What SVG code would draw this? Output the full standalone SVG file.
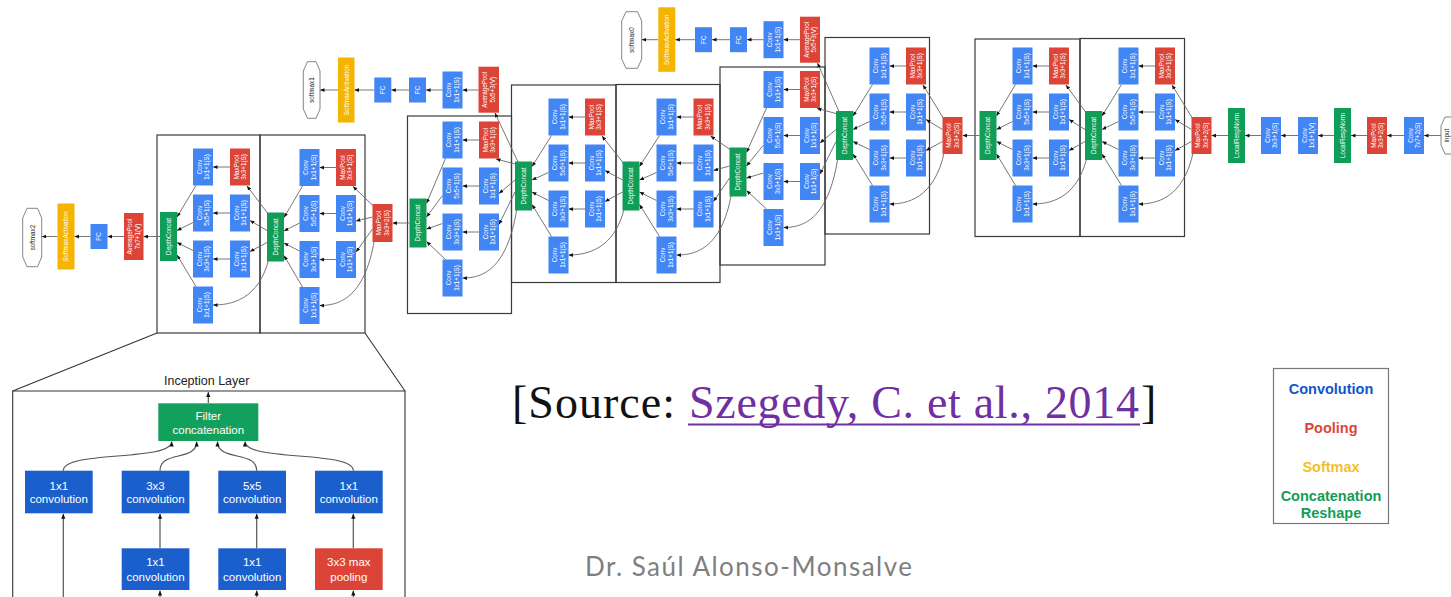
<svg xmlns="http://www.w3.org/2000/svg" width="1451" height="597" viewBox="0 0 1451 597">
<defs>
<style>
.b{fill:#4285f4}.r{fill:#db4437}.g{fill:#0f9d58}.y{fill:#f4b400}
.ib{fill:#1a5fcc}.ir{fill:#dc4437}.ig{fill:#12a05c}
.t{font-family:"Liberation Sans",Arial,sans-serif;font-size:6.3px;fill:#fff;text-anchor:middle}
.d{font-family:"Liberation Sans",Arial,sans-serif;font-size:6.3px;fill:#222;text-anchor:middle}
.hx{fill:#fff;stroke:#666;stroke-width:0.8}
.box{fill:none;stroke:#3a3a3a;stroke-width:1.2}
#links path{fill:none;stroke:#666;stroke-width:0.9;marker-end:url(#ah)}
#inset-links path{fill:none;stroke:#555;stroke-width:1.2;marker-end:url(#ah2)}
.it{font-family:"Liberation Sans",Arial,sans-serif;font-size:11.5px;fill:#fff;text-anchor:middle}
.lg{font-family:"Liberation Sans",Arial,sans-serif;font-size:14.5px;font-weight:bold;text-anchor:middle}
</style>
<marker id="ah" viewBox="0 0 6 6" refX="6" refY="3" markerWidth="4.5" markerHeight="4.5" markerUnits="userSpaceOnUse" orient="auto"><path d="M0,0.5L6,3L0,5.5z" fill="#111"/></marker>
<marker id="ah2" viewBox="0 0 6 6" refX="6" refY="3" markerWidth="5" markerHeight="5" markerUnits="userSpaceOnUse" orient="auto"><path d="M0,0.5L6,3L0,5.5z" fill="#111"/></marker>
</defs>
<rect width="1451" height="597" fill="#fff"/>

<!-- inception module frames -->
<g id="frames">
<rect class="box" x="157" y="135" width="103" height="198"/>
<rect class="box" x="260" y="135" width="105" height="198"/>
<rect class="box" x="407.5" y="116" width="104" height="197.5"/>
<rect class="box" x="511.5" y="85" width="104.5" height="197.5"/>
<rect class="box" x="616" y="84.5" width="104" height="198"/>
<rect class="box" x="720" y="67" width="105" height="198"/>
<rect class="box" x="825" y="37.5" width="104.5" height="196.5"/>
<rect class="box" x="975" y="39" width="105" height="197.5"/>
<rect class="box" x="1080" y="38.5" width="104.5" height="198"/>
</g>

<!-- connectors -->
<g id="links">
<!-- module A -->
<path d="M269,215L247,186"/><path d="M267,230.5L250,220.5"/><path d="M267,242.5L250,251.5"/><path d="M269,258C259,300.5 230,305 213,305"/>
<path d="M230,167H213"/><path d="M230,213H213"/><path d="M230,259H213"/>
<path d="M196,185.5L177,217"/><path d="M193,222.5L177,230.5"/><path d="M193,250.5L177,242.5"/><path d="M196,286.5L177,255"/>
<!-- module B -->
<path d="M374.5,207L353,186.5"/><path d="M372.5,217L356,221"/><path d="M372.5,229L356,252"/><path d="M374.5,239C364.5,301 336,305.5 319.5,305.5"/>
<path d="M336,167.5H319.5"/><path d="M336,213.5H319.5"/><path d="M336,259.5H319.5"/>
<path d="M302.5,186L284,217.5"/><path d="M299.5,223L284,231"/><path d="M299.5,251L284,243"/><path d="M302.5,287L284,255.5"/>
<!-- module C -->
<path d="M517,164.5L496,159"/><path d="M515,180L499,193.5"/><path d="M515,192L499,224.5"/><path d="M517,207.5C507,273.5 479,278 462.5,278"/>
<path d="M479,140H462.5"/><path d="M479,186H462.5"/><path d="M479,232H462.5"/>
<path d="M445.5,158.5L426.5,203.5"/><path d="M442.5,195.5L426.5,217"/><path d="M442.5,223.5L426.5,229"/><path d="M445.5,259.5L426.5,241.5"/>
<!-- module D -->
<path d="M624.5,164.5L602,136"/><path d="M622.5,180L605,170.5"/><path d="M622.5,192L605,201.5"/><path d="M624.5,207.5C614.5,250.5 585,255 568.5,255"/>
<path d="M585,117H568.5"/><path d="M585,163H568.5"/><path d="M585,209H568.5"/>
<path d="M551.5,135.5L532,166.5"/><path d="M548.5,172.5L532,180"/><path d="M548.5,200.5L532,192"/><path d="M551.5,236.5L532,204.5"/>
<!-- module E -->
<path d="M731.5,150.5L710.5,136"/><path d="M729.5,166L713.5,170.5"/><path d="M729.5,178L713.5,201.5"/><path d="M731.5,193.5C721.5,250.5 693.5,255 676.5,255"/>
<path d="M693.5,117H676.5"/><path d="M693.5,163H676.5"/><path d="M693.5,209H676.5"/>
<path d="M659.5,135.5L639.5,166.5"/><path d="M656.5,172.5L639.5,180"/><path d="M656.5,200.5L639.5,192"/><path d="M659.5,236.5L639.5,204.5"/>
<!-- module F -->
<path d="M838,114L817,108.5"/><path d="M836,129.5L820,143"/><path d="M836,141.5L820,174"/><path d="M838,157C828,223 800,227.5 783.5,227.5"/>
<path d="M800,89.5H783.5"/><path d="M800,135.5H783.5"/><path d="M800,181.5H783.5"/>
<path d="M766.5,108L746.5,152.5"/><path d="M763.5,145L746.5,166"/><path d="M763.5,173L746.5,178"/><path d="M766.5,209L746.5,190.5"/>
<!-- module G -->
<path d="M944.5,120L923,85"/><path d="M942.5,129.5L926,119.5"/><path d="M942.5,141.5L926,150.5"/><path d="M944.5,151C934.5,199.5 906,204 889.5,204"/>
<path d="M906,66H889.5"/><path d="M906,112H889.5"/><path d="M906,158H889.5"/>
<path d="M872.5,84.5L853,116"/><path d="M869.5,121.5L853,129.5"/><path d="M869.5,149.5L853,141.5"/><path d="M872.5,185.5L853,154"/>
<!-- module H -->
<path d="M1087,114L1066,85"/><path d="M1085,129.5L1069,119.5"/><path d="M1085,141.5L1069,150.5"/><path d="M1087,157C1077,199.5 1049,204 1032.5,204"/>
<path d="M1049,66H1032.5"/><path d="M1049,112H1032.5"/><path d="M1049,158H1032.5"/>
<path d="M1015.5,84.5L996.5,116"/><path d="M1012.5,121.5L996.5,129.5"/><path d="M1012.5,149.5L996.5,141.5"/><path d="M1015.5,185.5L996.5,154"/>
<!-- module I -->
<path d="M1193.5,120L1172,85"/><path d="M1191.5,129.5L1175,119.5"/><path d="M1191.5,141.5L1175,150.5"/><path d="M1193.5,151C1183.5,199.5 1155,204 1138.5,204"/>
<path d="M1155,66H1138.5"/><path d="M1155,112H1138.5"/><path d="M1155,158H1138.5"/>
<path d="M1121.5,84.5L1102,116"/><path d="M1118.5,121.5L1102,129.5"/><path d="M1118.5,149.5L1102,141.5"/><path d="M1121.5,185.5L1102,154"/>
<!-- stem and reductions -->
<path d="M409.5,223H392.5"/><path d="M979.5,135.5H962.5"/><path d="M1228,135.5H1211.5"/>
<path d="M1261,135.5H1245"/><path d="M1298,135.5H1281"/><path d="M1334,135.5H1318"/>
<path d="M1367,135.5H1351"/><path d="M1404,135.5H1387"/><path d="M1441,135.5H1424"/>
<!-- head softmax2 -->
<path d="M160,236.5H143.5"/><path d="M124,236.5H107.5"/><path d="M90.5,236.5H74.5"/><path d="M57.5,236.5H41.7"/>
<!-- head softmax1 -->
<path d="M518,162L495,113"/>
<path d="M478.5,90H462.5"/><path d="M442.5,90H426"/><path d="M409,90H391.3"/><path d="M374.3,90H354.5"/><path d="M338,90H320"/>
<!-- head softmax0 -->
<path d="M839,111.5L817.5,63"/>
<path d="M800,39.7H783.5"/><path d="M763.5,39.7H747"/><path d="M730,39.7H712"/><path d="M695,39.7H675.3"/><path d="M658.3,39.7H641.7"/>
</g>

<!-- module A nodes -->
<g id="a-concat"><rect class="g" x="160" y="212" width="17" height="49"/><text class="t" transform="translate(168.5 236.5) rotate(-90)" y="2.3">DepthConcat</text></g>
<g id="a-c1r1"><rect class="b" x="193" y="148.5" width="20" height="37"/><g transform="translate(203 167) rotate(-90)"><text class="t" y="-1.5">Conv</text><text class="t" y="6">1x1+1(S)</text></g></g>
<g id="a-c1r2"><rect class="b" x="193" y="194.5" width="20" height="37"/><g transform="translate(203 213) rotate(-90)"><text class="t" y="-1.5">Conv</text><text class="t" y="6">5x5+1(S)</text></g></g>
<g id="a-c1r3"><rect class="b" x="193" y="240.5" width="20" height="37"/><g transform="translate(203 259) rotate(-90)"><text class="t" y="-1.5">Conv</text><text class="t" y="6">3x3+1(S)</text></g></g>
<g id="a-c1r4"><rect class="b" x="193" y="286.5" width="20" height="37"/><g transform="translate(203 305) rotate(-90)"><text class="t" y="-1.5">Conv</text><text class="t" y="6">1x1+1(S)</text></g></g>
<g id="a-c2r1"><rect class="r" x="230" y="148.5" width="20" height="37"/><g transform="translate(240 167) rotate(-90)"><text class="t" y="-1.5">MaxPool</text><text class="t" y="6">3x3+1(S)</text></g></g>
<g id="a-c2r2"><rect class="b" x="230" y="194.5" width="20" height="37"/><g transform="translate(240 213) rotate(-90)"><text class="t" y="-1.5">Conv</text><text class="t" y="6">1x1+1(S)</text></g></g>
<g id="a-c2r3"><rect class="b" x="230" y="240.5" width="20" height="37"/><g transform="translate(240 259) rotate(-90)"><text class="t" y="-1.5">Conv</text><text class="t" y="6">1x1+1(S)</text></g></g>

<!-- module B nodes -->
<g id="b-concat"><rect class="g" x="267" y="212.5" width="17" height="49"/><text class="t" transform="translate(275.5 237) rotate(-90)" y="2.3">DepthConcat</text></g>
<g id="b-c1r1"><rect class="b" x="299.5" y="149" width="20" height="37"/><g transform="translate(309.5 167.5) rotate(-90)"><text class="t" y="-1.5">Conv</text><text class="t" y="6">1x1+1(S)</text></g></g>
<g id="b-c1r2"><rect class="b" x="299.5" y="195" width="20" height="37"/><g transform="translate(309.5 213.5) rotate(-90)"><text class="t" y="-1.5">Conv</text><text class="t" y="6">5x5+1(S)</text></g></g>
<g id="b-c1r3"><rect class="b" x="299.5" y="241" width="20" height="37"/><g transform="translate(309.5 259.5) rotate(-90)"><text class="t" y="-1.5">Conv</text><text class="t" y="6">3x3+1(S)</text></g></g>
<g id="b-c1r4"><rect class="b" x="299.5" y="287" width="20" height="37"/><g transform="translate(309.5 305.5) rotate(-90)"><text class="t" y="-1.5">Conv</text><text class="t" y="6">1x1+1(S)</text></g></g>
<g id="b-c2r1"><rect class="r" x="336" y="149" width="20" height="37"/><g transform="translate(346 167.5) rotate(-90)"><text class="t" y="-1.5">MaxPool</text><text class="t" y="6">3x3+1(S)</text></g></g>
<g id="b-c2r2"><rect class="b" x="336" y="195" width="20" height="37"/><g transform="translate(346 213.5) rotate(-90)"><text class="t" y="-1.5">Conv</text><text class="t" y="6">1x1+1(S)</text></g></g>
<g id="b-c2r3"><rect class="b" x="336" y="241" width="20" height="37"/><g transform="translate(346 259.5) rotate(-90)"><text class="t" y="-1.5">Conv</text><text class="t" y="6">1x1+1(S)</text></g></g>

<g id="pool-4e"><rect class="r" x="372.5" y="204" width="20" height="38"/><g transform="translate(382.5 223) rotate(-90)"><text class="t" y="-1.5">MaxPool</text><text class="t" y="6">3x3+2(S)</text></g></g>

<!-- module C nodes -->
<g id="c-concat"><rect class="g" x="409.5" y="198.5" width="17" height="49"/><text class="t" transform="translate(418 223) rotate(-90)" y="2.3">DepthConcat</text></g>
<g id="c-c1r1"><rect class="b" x="442.5" y="121.5" width="20" height="37"/><g transform="translate(452.5 140) rotate(-90)"><text class="t" y="-1.5">Conv</text><text class="t" y="6">1x1+1(S)</text></g></g>
<g id="c-c1r2"><rect class="b" x="442.5" y="167.5" width="20" height="37"/><g transform="translate(452.5 186) rotate(-90)"><text class="t" y="-1.5">Conv</text><text class="t" y="6">5x5+1(S)</text></g></g>
<g id="c-c1r3"><rect class="b" x="442.5" y="213.5" width="20" height="37"/><g transform="translate(452.5 232) rotate(-90)"><text class="t" y="-1.5">Conv</text><text class="t" y="6">3x3+1(S)</text></g></g>
<g id="c-c1r4"><rect class="b" x="442.5" y="259.5" width="20" height="37"/><g transform="translate(452.5 278) rotate(-90)"><text class="t" y="-1.5">Conv</text><text class="t" y="6">1x1+1(S)</text></g></g>
<g id="c-c2r1"><rect class="r" x="479" y="121.5" width="20" height="37"/><g transform="translate(489 140) rotate(-90)"><text class="t" y="-1.5">MaxPool</text><text class="t" y="6">3x3+1(S)</text></g></g>
<g id="c-c2r2"><rect class="b" x="479" y="167.5" width="20" height="37"/><g transform="translate(489 186) rotate(-90)"><text class="t" y="-1.5">Conv</text><text class="t" y="6">1x1+1(S)</text></g></g>
<g id="c-c2r3"><rect class="b" x="479" y="213.5" width="20" height="37"/><g transform="translate(489 232) rotate(-90)"><text class="t" y="-1.5">Conv</text><text class="t" y="6">1x1+1(S)</text></g></g>

<!-- module D nodes -->
<g id="d-concat"><rect class="g" x="515" y="161.5" width="17" height="49"/><text class="t" transform="translate(523.5 186) rotate(-90)" y="2.3">DepthConcat</text></g>
<g id="d-c1r1"><rect class="b" x="548.5" y="98.5" width="20" height="37"/><g transform="translate(558.5 117) rotate(-90)"><text class="t" y="-1.5">Conv</text><text class="t" y="6">1x1+1(S)</text></g></g>
<g id="d-c1r2"><rect class="b" x="548.5" y="144.5" width="20" height="37"/><g transform="translate(558.5 163) rotate(-90)"><text class="t" y="-1.5">Conv</text><text class="t" y="6">5x5+1(S)</text></g></g>
<g id="d-c1r3"><rect class="b" x="548.5" y="190.5" width="20" height="37"/><g transform="translate(558.5 209) rotate(-90)"><text class="t" y="-1.5">Conv</text><text class="t" y="6">3x3+1(S)</text></g></g>
<g id="d-c1r4"><rect class="b" x="548.5" y="236.5" width="20" height="37"/><g transform="translate(558.5 255) rotate(-90)"><text class="t" y="-1.5">Conv</text><text class="t" y="6">1x1+1(S)</text></g></g>
<g id="d-c2r1"><rect class="r" x="585" y="98.5" width="20" height="37"/><g transform="translate(595 117) rotate(-90)"><text class="t" y="-1.5">MaxPool</text><text class="t" y="6">3x3+1(S)</text></g></g>
<g id="d-c2r2"><rect class="b" x="585" y="144.5" width="20" height="37"/><g transform="translate(595 163) rotate(-90)"><text class="t" y="-1.5">Conv</text><text class="t" y="6">1x1+1(S)</text></g></g>
<g id="d-c2r3"><rect class="b" x="585" y="190.5" width="20" height="37"/><g transform="translate(595 209) rotate(-90)"><text class="t" y="-1.5">Conv</text><text class="t" y="6">1x1+1(S)</text></g></g>

<!-- module E nodes -->
<g id="e-concat"><rect class="g" x="622.5" y="161.5" width="17" height="49"/><text class="t" transform="translate(631 186) rotate(-90)" y="2.3">DepthConcat</text></g>
<g id="e-c1r1"><rect class="b" x="656.5" y="98.5" width="20" height="37"/><g transform="translate(666.5 117) rotate(-90)"><text class="t" y="-1.5">Conv</text><text class="t" y="6">1x1+1(S)</text></g></g>
<g id="e-c1r2"><rect class="b" x="656.5" y="144.5" width="20" height="37"/><g transform="translate(666.5 163) rotate(-90)"><text class="t" y="-1.5">Conv</text><text class="t" y="6">5x5+1(S)</text></g></g>
<g id="e-c1r3"><rect class="b" x="656.5" y="190.5" width="20" height="37"/><g transform="translate(666.5 209) rotate(-90)"><text class="t" y="-1.5">Conv</text><text class="t" y="6">3x3+1(S)</text></g></g>
<g id="e-c1r4"><rect class="b" x="656.5" y="236.5" width="20" height="37"/><g transform="translate(666.5 255) rotate(-90)"><text class="t" y="-1.5">Conv</text><text class="t" y="6">1x1+1(S)</text></g></g>
<g id="e-c2r1"><rect class="r" x="693.5" y="98.5" width="20" height="37"/><g transform="translate(703.5 117) rotate(-90)"><text class="t" y="-1.5">MaxPool</text><text class="t" y="6">3x3+1(S)</text></g></g>
<g id="e-c2r2"><rect class="b" x="693.5" y="144.5" width="20" height="37"/><g transform="translate(703.5 163) rotate(-90)"><text class="t" y="-1.5">Conv</text><text class="t" y="6">1x1+1(S)</text></g></g>
<g id="e-c2r3"><rect class="b" x="693.5" y="190.5" width="20" height="37"/><g transform="translate(703.5 209) rotate(-90)"><text class="t" y="-1.5">Conv</text><text class="t" y="6">1x1+1(S)</text></g></g>

<!-- module F nodes -->
<g id="f-concat"><rect class="g" x="729.5" y="147.5" width="17" height="49"/><text class="t" transform="translate(738 172) rotate(-90)" y="2.3">DepthConcat</text></g>
<g id="f-c1r1"><rect class="b" x="763.5" y="71" width="20" height="37"/><g transform="translate(773.5 89.5) rotate(-90)"><text class="t" y="-1.5">Conv</text><text class="t" y="6">1x1+1(S)</text></g></g>
<g id="f-c1r2"><rect class="b" x="763.5" y="117" width="20" height="37"/><g transform="translate(773.5 135.5) rotate(-90)"><text class="t" y="-1.5">Conv</text><text class="t" y="6">5x5+1(S)</text></g></g>
<g id="f-c1r3"><rect class="b" x="763.5" y="163" width="20" height="37"/><g transform="translate(773.5 181.5) rotate(-90)"><text class="t" y="-1.5">Conv</text><text class="t" y="6">3x3+1(S)</text></g></g>
<g id="f-c1r4"><rect class="b" x="763.5" y="209" width="20" height="37"/><g transform="translate(773.5 227.5) rotate(-90)"><text class="t" y="-1.5">Conv</text><text class="t" y="6">1x1+1(S)</text></g></g>
<g id="f-c2r1"><rect class="r" x="800" y="71" width="20" height="37"/><g transform="translate(810 89.5) rotate(-90)"><text class="t" y="-1.5">MaxPool</text><text class="t" y="6">3x3+1(S)</text></g></g>
<g id="f-c2r2"><rect class="b" x="800" y="117" width="20" height="37"/><g transform="translate(810 135.5) rotate(-90)"><text class="t" y="-1.5">Conv</text><text class="t" y="6">1x1+1(S)</text></g></g>
<g id="f-c2r3"><rect class="b" x="800" y="163" width="20" height="37"/><g transform="translate(810 181.5) rotate(-90)"><text class="t" y="-1.5">Conv</text><text class="t" y="6">1x1+1(S)</text></g></g>

<!-- module G nodes -->
<g id="g-concat"><rect class="g" x="836" y="111" width="17" height="49"/><text class="t" transform="translate(844.5 135.5) rotate(-90)" y="2.3">DepthConcat</text></g>
<g id="g-c1r1"><rect class="b" x="869.5" y="47.5" width="20" height="37"/><g transform="translate(879.5 66) rotate(-90)"><text class="t" y="-1.5">Conv</text><text class="t" y="6">1x1+1(S)</text></g></g>
<g id="g-c1r2"><rect class="b" x="869.5" y="93.5" width="20" height="37"/><g transform="translate(879.5 112) rotate(-90)"><text class="t" y="-1.5">Conv</text><text class="t" y="6">5x5+1(S)</text></g></g>
<g id="g-c1r3"><rect class="b" x="869.5" y="139.5" width="20" height="37"/><g transform="translate(879.5 158) rotate(-90)"><text class="t" y="-1.5">Conv</text><text class="t" y="6">3x3+1(S)</text></g></g>
<g id="g-c1r4"><rect class="b" x="869.5" y="185.5" width="20" height="37"/><g transform="translate(879.5 204) rotate(-90)"><text class="t" y="-1.5">Conv</text><text class="t" y="6">1x1+1(S)</text></g></g>
<g id="g-c2r1"><rect class="r" x="906" y="47.5" width="20" height="37"/><g transform="translate(916 66) rotate(-90)"><text class="t" y="-1.5">MaxPool</text><text class="t" y="6">3x3+1(S)</text></g></g>
<g id="g-c2r2"><rect class="b" x="906" y="93.5" width="20" height="37"/><g transform="translate(916 112) rotate(-90)"><text class="t" y="-1.5">Conv</text><text class="t" y="6">1x1+1(S)</text></g></g>
<g id="g-c2r3"><rect class="b" x="906" y="139.5" width="20" height="37"/><g transform="translate(916 158) rotate(-90)"><text class="t" y="-1.5">Conv</text><text class="t" y="6">1x1+1(S)</text></g></g>

<g id="pool-3c"><rect class="r" x="942.5" y="117" width="20" height="37"/><g transform="translate(952.5 135.5) rotate(-90)"><text class="t" y="-1.5">MaxPool</text><text class="t" y="6">3x3+2(S)</text></g></g>

<!-- module H nodes -->
<g id="h-concat"><rect class="g" x="979.5" y="111" width="17" height="49"/><text class="t" transform="translate(988 135.5) rotate(-90)" y="2.3">DepthConcat</text></g>
<g id="h-c1r1"><rect class="b" x="1012.5" y="47.5" width="20" height="37"/><g transform="translate(1022.5 66) rotate(-90)"><text class="t" y="-1.5">Conv</text><text class="t" y="6">1x1+1(S)</text></g></g>
<g id="h-c1r2"><rect class="b" x="1012.5" y="93.5" width="20" height="37"/><g transform="translate(1022.5 112) rotate(-90)"><text class="t" y="-1.5">Conv</text><text class="t" y="6">5x5+1(S)</text></g></g>
<g id="h-c1r3"><rect class="b" x="1012.5" y="139.5" width="20" height="37"/><g transform="translate(1022.5 158) rotate(-90)"><text class="t" y="-1.5">Conv</text><text class="t" y="6">3x3+1(S)</text></g></g>
<g id="h-c1r4"><rect class="b" x="1012.5" y="185.5" width="20" height="37"/><g transform="translate(1022.5 204) rotate(-90)"><text class="t" y="-1.5">Conv</text><text class="t" y="6">1x1+1(S)</text></g></g>
<g id="h-c2r1"><rect class="r" x="1049" y="47.5" width="20" height="37"/><g transform="translate(1059 66) rotate(-90)"><text class="t" y="-1.5">MaxPool</text><text class="t" y="6">3x3+1(S)</text></g></g>
<g id="h-c2r2"><rect class="b" x="1049" y="93.5" width="20" height="37"/><g transform="translate(1059 112) rotate(-90)"><text class="t" y="-1.5">Conv</text><text class="t" y="6">1x1+1(S)</text></g></g>
<g id="h-c2r3"><rect class="b" x="1049" y="139.5" width="20" height="37"/><g transform="translate(1059 158) rotate(-90)"><text class="t" y="-1.5">Conv</text><text class="t" y="6">1x1+1(S)</text></g></g>

<!-- module I nodes -->
<g id="i-concat"><rect class="g" x="1085" y="111" width="17" height="49"/><text class="t" transform="translate(1093.5 135.5) rotate(-90)" y="2.3">DepthConcat</text></g>
<g id="i-c1r1"><rect class="b" x="1118.5" y="47.5" width="20" height="37"/><g transform="translate(1128.5 66) rotate(-90)"><text class="t" y="-1.5">Conv</text><text class="t" y="6">1x1+1(S)</text></g></g>
<g id="i-c1r2"><rect class="b" x="1118.5" y="93.5" width="20" height="37"/><g transform="translate(1128.5 112) rotate(-90)"><text class="t" y="-1.5">Conv</text><text class="t" y="6">5x5+1(S)</text></g></g>
<g id="i-c1r3"><rect class="b" x="1118.5" y="139.5" width="20" height="37"/><g transform="translate(1128.5 158) rotate(-90)"><text class="t" y="-1.5">Conv</text><text class="t" y="6">3x3+1(S)</text></g></g>
<g id="i-c1r4"><rect class="b" x="1118.5" y="185.5" width="20" height="37"/><g transform="translate(1128.5 204) rotate(-90)"><text class="t" y="-1.5">Conv</text><text class="t" y="6">1x1+1(S)</text></g></g>
<g id="i-c2r1"><rect class="r" x="1155" y="47.5" width="20" height="37"/><g transform="translate(1165 66) rotate(-90)"><text class="t" y="-1.5">MaxPool</text><text class="t" y="6">3x3+1(S)</text></g></g>
<g id="i-c2r2"><rect class="b" x="1155" y="93.5" width="20" height="37"/><g transform="translate(1165 112) rotate(-90)"><text class="t" y="-1.5">Conv</text><text class="t" y="6">1x1+1(S)</text></g></g>
<g id="i-c2r3"><rect class="b" x="1155" y="139.5" width="20" height="37"/><g transform="translate(1165 158) rotate(-90)"><text class="t" y="-1.5">Conv</text><text class="t" y="6">1x1+1(S)</text></g></g>

<!-- stem -->
<g id="pool-2"><rect class="r" x="1191.5" y="117" width="20" height="37"/><g transform="translate(1201.5 135.5) rotate(-90)"><text class="t" y="-1.5">MaxPool</text><text class="t" y="6">3x3+2(S)</text></g></g>
<g id="lrn-2"><rect class="g" x="1228" y="108" width="17" height="55"/><text class="t" transform="translate(1236.5 135.5) rotate(-90)" y="2.3">LocalRespNorm</text></g>
<g id="conv-2b"><rect class="b" x="1261" y="117" width="20" height="37"/><g transform="translate(1271 135.5) rotate(-90)"><text class="t" y="-1.5">Conv</text><text class="t" y="6">3x3+1(S)</text></g></g>
<g id="conv-2a"><rect class="b" x="1298" y="117" width="20" height="37"/><g transform="translate(1308 135.5) rotate(-90)"><text class="t" y="-1.5">Conv</text><text class="t" y="6">1x1+1(V)</text></g></g>
<g id="lrn-1"><rect class="g" x="1334" y="108" width="17" height="55"/><text class="t" transform="translate(1342.5 135.5) rotate(-90)" y="2.3">LocalRespNorm</text></g>
<g id="pool-1"><rect class="r" x="1367" y="117" width="20" height="37"/><g transform="translate(1377 135.5) rotate(-90)"><text class="t" y="-1.5">MaxPool</text><text class="t" y="6">3x3+2(S)</text></g></g>
<g id="conv-1"><rect class="b" x="1404" y="117" width="20" height="37"/><g transform="translate(1414 135.5) rotate(-90)"><text class="t" y="-1.5">Conv</text><text class="t" y="6">7x7+2(S)</text></g></g>
<g id="input"><polygon class="hx" points="1445,117 1457,117 1461,126 1461,145 1457,154 1445,154 1441,145 1441,126"/><text class="d" transform="translate(1446.3 135.5) rotate(-90)" y="2.3">input</text></g>

<!-- auxiliary head softmax0 -->
<g id="s0-pool"><rect class="r" x="800" y="16.7" width="20" height="46"/><g transform="translate(810 39.7) rotate(-90)"><text class="t" y="-1.5">AveragePool</text><text class="t" y="6">5x5+3(V)</text></g></g>
<g id="s0-conv"><rect class="b" x="763.5" y="21.2" width="20" height="37"/><g transform="translate(773.5 39.7) rotate(-90)"><text class="t" y="-1.5">Conv</text><text class="t" y="6">1x1+1(S)</text></g></g>
<g id="s0-fc1"><rect class="b" x="730" y="27.2" width="17" height="25"/><text class="t" transform="translate(738.5 39.7) rotate(-90)" y="2.3">FC</text></g>
<g id="s0-fc2"><rect class="b" x="695" y="27.2" width="17" height="25"/><text class="t" transform="translate(703.5 39.7) rotate(-90)" y="2.3">FC</text></g>
<g id="s0-act"><rect class="y" x="658.3" y="7.3" width="17" height="64.5"/><text class="t" transform="translate(666.8 39.7) rotate(-90)" y="2.3">SoftmaxActivation</text></g>
<g id="softmax0"><polygon class="hx" points="626,11.7 637.5,11.7 641.7,21 641.7,59 637.5,68.3 626,68.3 621.7,59 621.7,21"/><text class="d" transform="translate(631.7 40) rotate(-90)" y="2.3">softmax0</text></g>

<!-- auxiliary head softmax1 -->
<g id="s1-pool"><rect class="r" x="478.5" y="66.7" width="20.5" height="46"/><g transform="translate(488.75 89.7) rotate(-90)"><text class="t" y="-1.5">AveragePool</text><text class="t" y="6">5x5+3(V)</text></g></g>
<g id="s1-conv"><rect class="b" x="442.5" y="71.5" width="20" height="37"/><g transform="translate(452.5 90) rotate(-90)"><text class="t" y="-1.5">Conv</text><text class="t" y="6">1x1+1(S)</text></g></g>
<g id="s1-fc1"><rect class="b" x="409" y="77.5" width="17" height="25"/><text class="t" transform="translate(417.5 90) rotate(-90)" y="2.3">FC</text></g>
<g id="s1-fc2"><rect class="b" x="374.3" y="77.5" width="17" height="25"/><text class="t" transform="translate(382.8 90) rotate(-90)" y="2.3">FC</text></g>
<g id="s1-act"><rect class="y" x="338" y="57.5" width="16.5" height="65"/><text class="t" transform="translate(346.25 90) rotate(-90)" y="2.3">SoftmaxActivation</text></g>
<g id="softmax1"><polygon class="hx" points="307.5,61.7 316,61.7 320,71 320,109 316,118.3 307.5,118.3 303.3,109 303.3,71"/><text class="d" transform="translate(311.7 90) rotate(-90)" y="2.3">softmax1</text></g>

<!-- output head softmax2 -->
<g id="s2-pool"><rect class="r" x="124" y="213" width="19.5" height="47"/><g transform="translate(133.75 236.5) rotate(-90)"><text class="t" y="-1.5">AveragePool</text><text class="t" y="6">7x7+1(V)</text></g></g>
<g id="s2-fc"><rect class="b" x="90.5" y="224" width="17" height="25"/><text class="t" transform="translate(99 236.5) rotate(-90)" y="2.3">FC</text></g>
<g id="s2-act"><rect class="y" x="57.5" y="203.5" width="17" height="66"/><text class="t" transform="translate(66 236.5) rotate(-90)" y="2.3">SoftmaxActivation</text></g>
<g id="softmax2"><polygon class="hx" points="27,208.3 37.5,208.3 41.7,218 41.7,257 37.5,266.7 27,266.7 22.7,257 22.7,218"/><text class="d" transform="translate(32.2 237.5) rotate(-90)" y="2.3">softmax2</text></g>

<!-- zoomed inception layer -->
<g id="inset-frame" fill="none" stroke="#333" stroke-width="1.1">
<path d="M157,333L12.7,391M365,333L405,391"/>
<path d="M12.7,600V391H405V600"/>
</g>
<text x="206.7" y="385" font-family="Liberation Sans, Arial, sans-serif" font-size="12.5" fill="#222" text-anchor="middle">Inception Layer</text>
<g id="inset-links">
<path d="M208.3,403V392"/>
<path d="M63.3,470.7C63.3,450 171.7,462 171.7,441.5"/>
<path d="M160,470.7C160,450 196.7,462 196.7,441.5"/>
<path d="M256.7,470.7C256.7,450 217.5,462 217.5,441.5"/>
<path d="M353.3,470.7C353.3,450 245,462 245,441.5"/>
<path d="M160,548.3V513.8"/><path d="M256.7,548.3V513.8"/><path d="M353.3,548.3V513.8"/>
<path d="M63.3,600V513.8"/>
<path d="M160,600V590.5"/><path d="M256.7,600V590.5"/><path d="M353.3,600V590.5"/>
</g>
<g id="filter-concat"><rect class="ig" x="158.3" y="403.3" width="100" height="37.7"/><text class="it" x="208.3" y="420">Filter</text><text class="it" x="208.3" y="433.5">concatenation</text></g>
<g id="conv1x1-a"><rect class="ib" x="25" y="470.7" width="67.7" height="42.6"/><text class="it" x="58.8" y="489.7">1x1</text><text class="it" x="58.8" y="503.3">convolution</text></g>
<g id="conv3x3"><rect class="ib" x="121.7" y="470.7" width="67.7" height="42.6"/><text class="it" x="155.5" y="489.7">3x3</text><text class="it" x="155.5" y="503.3">convolution</text></g>
<g id="conv5x5"><rect class="ib" x="218.3" y="470.7" width="67.7" height="42.6"/><text class="it" x="252.2" y="489.7">5x5</text><text class="it" x="252.2" y="503.3">convolution</text></g>
<g id="conv1x1-d"><rect class="ib" x="315" y="470.7" width="67.7" height="42.6"/><text class="it" x="348.8" y="489.7">1x1</text><text class="it" x="348.8" y="503.3">convolution</text></g>
<g id="conv1x1-b"><rect class="ib" x="121.7" y="548.3" width="67.7" height="41.7"/><text class="it" x="155.5" y="566.3">1x1</text><text class="it" x="155.5" y="580.7">convolution</text></g>
<g id="conv1x1-c"><rect class="ib" x="218.3" y="548.3" width="67.7" height="41.7"/><text class="it" x="252.2" y="566.3">1x1</text><text class="it" x="252.2" y="580.7">convolution</text></g>
<g id="maxpool3x3"><rect class="ir" x="315" y="548.3" width="67.7" height="41.7"/><text class="it" x="348.8" y="566.3">3x3 max</text><text class="it" x="348.8" y="580.7">pooling</text></g>

<!-- citation -->
<g id="source" font-family="Liberation Serif, Times New Roman, serif" font-size="46">
<text x="512" y="418" fill="#111" textLength="163">[Source:</text>
<text x="689" y="418" fill="#7030a0" textLength="450">Szegedy, C. et al., 2014</text>
<line x1="688" y1="424.5" x2="1140" y2="424.5" stroke="#7030a0" stroke-width="2"/>
<text x="1141" y="418" fill="#111">]</text>
</g>

<!-- legend -->
<g id="legend">
<rect x="1273.5" y="368.5" width="115" height="155" fill="#fff" stroke="#777" stroke-width="1.2"/>
<text class="lg" x="1331" y="393.5" fill="#1155cc">Convolution</text>
<text class="lg" x="1331" y="432.5" fill="#d9463a">Pooling</text>
<text class="lg" x="1331" y="471.5" fill="#f1bf2c">Softmax</text>
<text class="lg" x="1331" y="500.5" fill="#0f9d58">Concatenation</text>
<text class="lg" x="1331" y="518" fill="#0f9d58">Reshape</text>
</g>

<text x="585" y="576" font-family="Lato, Open Sans, sans-serif" font-size="26" fill="#7f7f7f" textLength="327">Dr. Saúl Alonso-Monsalve</text>
</svg>
